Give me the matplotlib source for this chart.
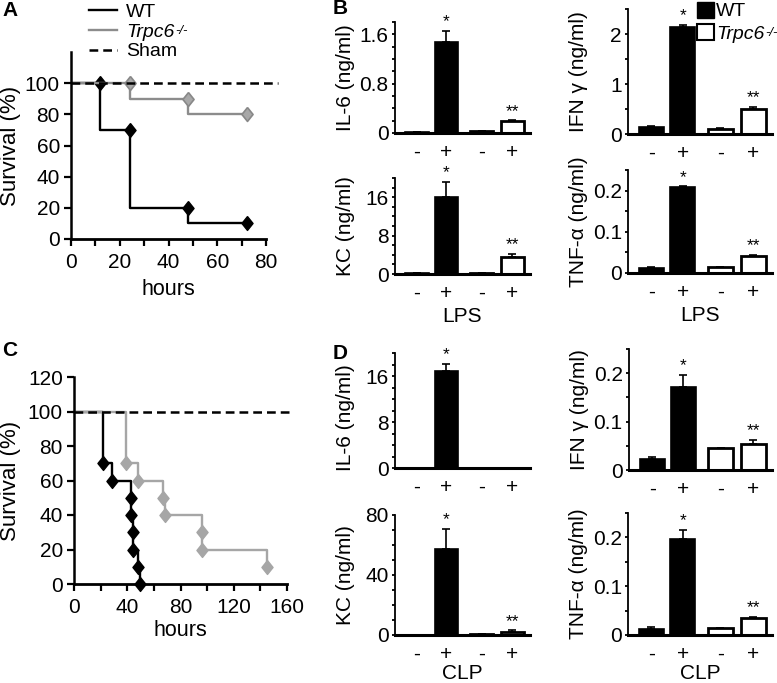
import matplotlib
matplotlib.use("Agg")
import matplotlib.pyplot as plt
from matplotlib.patches import Patch
from matplotlib.ticker import MultipleLocator, FuncFormatter

plt.rcParams["font.family"] = ["Liberation Sans", "DejaVu Sans"]

W, H = 777, 683

# ---- survival data (hours, % alive) ----
a_wt_t = [0, 12, 24, 48, 72]
a_wt_s = [100, 70, 20, 10, 10]
a_wt_mark_t = [12, 24, 48, 72]
a_wt_mark_s = [100, 70, 20, 10]
a_ko_t = [0, 24, 48, 72]
a_ko_s = [100, 90, 80, 80]
a_ko_mark_t = [24, 48, 72]
a_ko_mark_s = [100, 90, 80]

c_wt_t = [0, 22, 28.5, 43, 43, 44, 44, 48, 49.5]
c_wt_s = [100, 70, 60, 50, 40, 30, 20, 10, 0]
c_ko_t = [0, 39, 48, 67, 68.5, 96, 96, 145]
c_ko_s = [100, 70, 60, 50, 40, 30, 20, 10]

# ---- cytokines (ng/ml): WT -, WT +, Trpc6 -, Trpc6 + ----
bar_ticks = ["-", "+", "-", "+"]
lps_il6 = [0.01, 1.47, 0.03, 0.19]
lps_il6_err = [0, 0.19, 0, 0.02]
lps_ifn = [0.14, 2.14, 0.11, 0.51]
lps_ifn_err = [0.03, 0.04, 0.01, 0.03]
lps_kc = [0.2, 16.0, 0.2, 3.6]
lps_kc_err = [0, 3.2, 0, 0.6]
lps_tnf = [0.012, 0.208, 0.014, 0.042]
lps_tnf_err = [0.003, 0.002, 0.001, 0.002]

clp_il6 = [0, 16.9, 0, 0]
clp_il6_err = [0, 1.2, 0, 0]
clp_ifn = [0.022, 0.172, 0.045, 0.054]
clp_ifn_err = [0.005, 0.025, 0.001, 0.009]
clp_kc = [0.3, 57.3, 0.5, 2.2]
clp_kc_err = [0, 13.7, 0, 1.0]
clp_tnf = [0.0116, 0.197, 0.0137, 0.034]
clp_tnf_err = [0.004, 0.019, 0.001, 0.0035]

fig = plt.figure(figsize=(W / 100, H / 100), dpi=100)


def px_axes(l, t, r, b):
    return fig.add_axes([l / W, 1 - b / H, (r - l) / W, (b - t) / H])


diamond = [(0, 1), (0.8, 0), (0, -1), (-0.8, 0), (0, 1)]
fmt = FuncFormatter(lambda v, p: f"{v:g}")


def survival(ax, xmax, xmajor, ymax_label):
    for s in ("top", "right"):
        ax.spines[s].set_visible(False)
    ax.spines["left"].set_linewidth(1.8)
    ax.spines["bottom"].set_linewidth(2.0)
    ax.set_ylim(0, 120)
    ax.set_xlim(0, xmax)
    ax.set_yticks(range(0, ymax_label + 1, 20))
    ax.xaxis.set_major_locator(MultipleLocator(xmajor))
    ax.xaxis.set_minor_locator(MultipleLocator(xmajor / 2))
    ax.xaxis.set_major_formatter(fmt)
    ax.tick_params(which="both", labelsize=15, width=1.6, length=5, pad=3)
    ax.tick_params(axis="x", pad=5)
    ax.set_ylabel("Survival (%)", fontsize=16)
    ax.set_xlabel("hours", fontsize=15.5)


# ---------------- A ----------------
axA = px_axes(71, 52, 266, 239)
l_wt, = axA.step(a_wt_t, a_wt_s, where="post", color="black", lw=1.7)
axA.plot(a_wt_mark_t, a_wt_mark_s, ls="none", marker=diamond, ms=10,
         color="black", clip_on=False)
l_ko, = axA.step(a_ko_t, a_ko_s, where="post", color="#8c8c8c", lw=1.7)
axA.plot(a_ko_mark_t, a_ko_mark_s, ls="none", marker=diamond, ms=10,
         mfc="#a8a8a8", mec="#888888", mew=1.2, clip_on=False)
l_sh, = axA.plot([0, 85], [100, 100], color="black", lw=1.8,
                 ls=(0, (3.5, 2)), clip_on=False)
survival(axA, 80, 20, 100)
axA.yaxis.set_label_coords(-50 / 195, 0.5)
axA.xaxis.set_label_coords(0.5, -40 / 187)
legA = fig.legend([l_wt, l_ko, l_sh], ["WT", "Trpc6", "Sham"],
                  loc="upper left", bbox_to_anchor=(89 / W, 1 - 3 / H),
                  frameon=False, fontsize=14, handlelength=1.45,
                  handletextpad=0.45, labelspacing=0.12, borderpad=0,
                  borderaxespad=0)

# ---------------- C ----------------
axC = px_axes(74, 377, 287, 584)
axC.step(c_wt_t, c_wt_s, where="post", color="black", lw=1.7, clip_on=False)
axC.plot(c_wt_t[1:], c_wt_s[1:], ls="none", marker=diamond, ms=10,
         color="black", clip_on=False)
axC.step(c_ko_t, c_ko_s, where="post", color="#a6a6a6", lw=1.7)
axC.plot(c_ko_t[1:], c_ko_s[1:], ls="none", marker=diamond, ms=10,
         color="#a6a6a6", clip_on=False)
axC.plot([0, 165], [100, 100], color="black", lw=1.8, ls=(0, (3.5, 2)),
         clip_on=False)
survival(axC, 160, 40, 120)
axC.yaxis.set_label_coords(-53 / 213, 0.5)
axC.xaxis.set_label_coords(0.5, -36 / 207)

# ---------------- bar panels ----------------
pos = [0, 1, 2.2, 3.25]
bar_face = ["black", "black", "white", "white"]


def bars(rect, vals, errs, ymax, major, minor, ylabel, xlabel=None,
         show_dstar=True, label_y=0.5, xlab_off=33):
    l, t, r, b = rect
    ax = px_axes(*rect)
    ax.bar(pos, vals, width=0.8, color=bar_face, edgecolor="black",
           linewidth=[1.2, 1.2, 2, 2], zorder=2)
    ax.errorbar(pos, vals, yerr=[[0] * 4, errs], fmt="none", ecolor="black",
                elinewidth=1.2, capsize=3, capthick=1.2, zorder=1)
    ax.set_xlim(-0.75, 3.85)
    ax.set_ylim(0, ymax)
    ax.yaxis.set_major_locator(MultipleLocator(major))
    ax.yaxis.set_minor_locator(MultipleLocator(minor))
    ax.yaxis.set_major_formatter(fmt)
    ax.set_xticks(pos)
    ax.set_xticklabels(bar_ticks)
    for s in ("top", "right"):
        ax.spines[s].set_visible(False)
    ax.spines["left"].set_linewidth(1.3)
    ax.spines["bottom"].set_linewidth(2.2)
    ax.tick_params(axis="y", which="both", length=2.5, width=1.3,
                   labelsize=15, pad=2)
    ax.tick_params(axis="x", length=0, labelsize=15, pad=7)
    ax.set_ylabel(ylabel, fontsize=15)
    ax.yaxis.set_label_coords(-40 / (r - l), label_y)
    if xlabel:
        ax.set_xlabel(xlabel, fontsize=15)
        ax.xaxis.set_label_coords(0.5, -xlab_off / (b - t))
    marks = [(1, "*")]
    if show_dstar:
        marks.append((3, "**"))
    for i, s in marks:
        ax.annotate(s, (pos[i], vals[i] + errs[i]), xytext=(0, 1),
                    textcoords="offset points", ha="center", va="bottom",
                    fontsize=12.5, annotation_clip=False)
    return ax


bars((395, 22, 530, 133), lps_il6, lps_il6_err, 1.8, 0.8, 0.2, "IL-6 (ng/ml)")
bars((628, 9, 772, 134), lps_ifn, lps_ifn_err, 2.5, 1, 0.5, "IFN γ (ng/ml)")
bars((395, 178, 530, 274), lps_kc, lps_kc_err, 20, 8, 2, "KC (ng/ml)", "LPS")
bars((628, 170, 772, 273), lps_tnf, lps_tnf_err, 0.25, 0.1, 0.05,
     "TNF-α (ng/ml)", "LPS")

bars((395, 353, 530, 468), clp_il6, clp_il6_err, 20, 8, 2, "IL-6 (ng/ml)",
     show_dstar=False, label_y=0.44)
bars((629, 349, 772, 470), clp_ifn, clp_ifn_err, 0.25, 0.1, 0.05,
     "IFN γ (ng/ml)")
bars((395, 515, 530, 635), clp_kc, clp_kc_err, 80, 40, 10, "KC (ng/ml)",
     "CLP", xlab_off=29)
bars((628, 513, 772, 635), clp_tnf, clp_tnf_err, 0.25, 0.1, 0.05,
     "TNF-α (ng/ml)", "CLP", xlab_off=29)

legB = fig.legend([Patch(fc="black", ec="black"),
                   Patch(fc="white", ec="black", lw=1.5)], ["WT", "Trpc6"],
                  loc="upper left", bbox_to_anchor=(697 / W, 1 - 2 / H),
                  frameon=False, fontsize=14, handlelength=0.85,
                  handleheight=0.85, handletextpad=0.12, labelspacing=0.2,
                  borderpad=0, borderaxespad=0)

# italic gene name with a small "-/-" superscript after it
for leg in (legA, legB):
    leg.get_texts()[1].set_fontstyle("italic")
fig.canvas.draw()
rend = fig.canvas.get_renderer()
for leg in (legA, legB):
    bb = leg.get_texts()[1].get_window_extent(rend)
    fig.text((bb.x1 + 1) / W, (bb.y1 - 1) / H, "-/-", fontsize=9.5,
             style="italic", ha="left", va="top")

# panel letters
for x, y, s in [(2, 11, "A"), (333, 9, "B"), (2, 350, "C"), (333, 353, "D")]:
    fig.text(x / W, 1 - y / H, s, fontsize=15, fontweight="bold",
             ha="left", va="center")

fig.savefig("out.png", dpi=100)
